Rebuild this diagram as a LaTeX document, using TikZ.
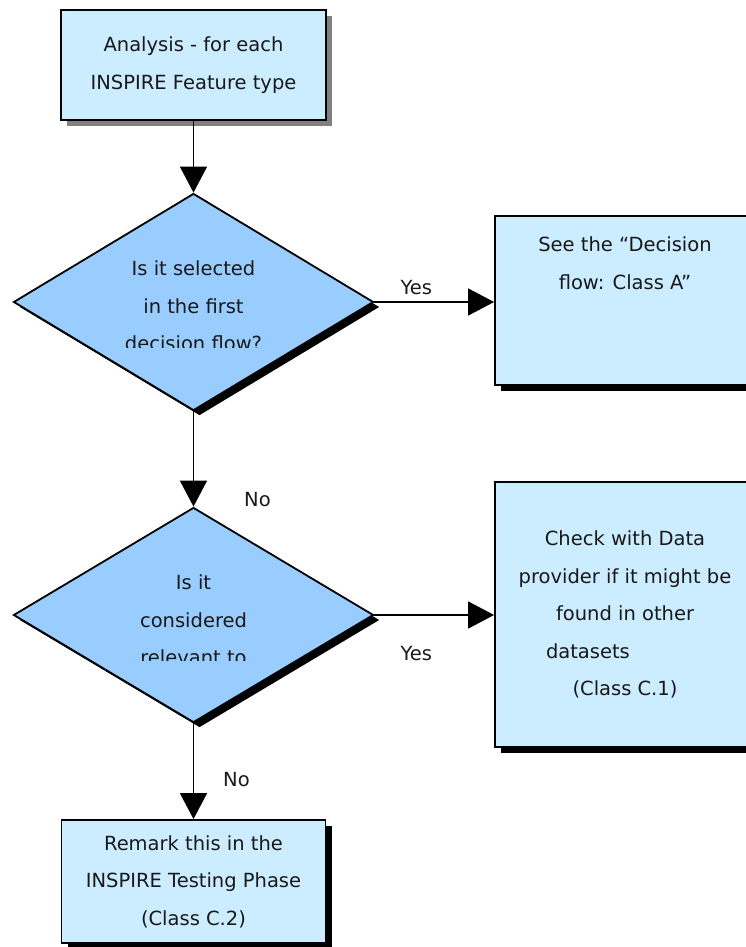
\documentclass[tikz,border=0pt]{standalone}
\usepackage{fontspec}
\setmainfont{DejaVu Sans}
\usetikzlibrary{arrows.meta, shapes.geometric, shadows}

\definecolor{boxblue}{HTML}{CCECFF}
\definecolor{decblue}{HTML}{99CCFF}

\begin{document}
\begin{tikzpicture}[
        x=1pt, y=-1pt,
        every node/.style={font=\fontsize{19.5}{37.5}\selectfont, text=black!90},
        box/.style={draw, line width=1.8pt, fill=boxblue, align=center, inner sep=0pt,
          drop shadow={shadow xshift=6pt, shadow yshift=-6pt, fill=black, opacity=1}},
        decision/.style={diamond, draw, line width=1.8pt, fill=decblue, inner sep=0pt,
          minimum width=360, minimum height=217,
          drop shadow={shadow xshift=6pt, shadow yshift=-5pt, fill=black, opacity=1}},
        lbl/.style={inner sep=0pt},
        arr/.style={line width=1.4pt, -{Triangle[length=26pt, width=27pt]}} % arrow style
      ]
      \useasboundingbox (0,0) rectangle (745,947);

      % Nodes
      \node (ana) [box, minimum width=265, minimum height=110,
        drop shadow={shadow xshift=6pt, shadow yshift=-6pt, fill=black!50, opacity=1}]
        at (193.5,65) {Analysis - for each\\INSPIRE Feature type};
      \node (sel) [decision] at (193.5,302) {};
      \node (see) [box, minimum width=260, minimum height=169] at (625,300.5)
        {See the “Decision\\flow: Class A”\\\mbox{}\\\mbox{}};
      \node (rel) [decision, minimum height=215] at (193.5,615) {};
      \node (check) [box, minimum width=260, minimum height=265] at (625,614.5)
        {Check with Data\\provider if it might be\\found in other\\\makebox[158pt][l]{datasets}\\(Class C.1)};
      \node (remark) [box, minimum width=264, minimum height=123] at (193.5,881.5)
        {Remark this in the\\INSPIRE Testing Phase\\(Class C.2)};

      % Questions (cut off at the bottom)
      \begin{scope}
        \clip (0,190) rectangle (400,347);
        \node (selq) [align=center] at (193.5,306) {Is it selected\\in the first\\decision flow?};
      \end{scope}
      \begin{scope}
        \clip (0,500) rectangle (400,660.5);
        \node (relq) [align=center] at (193.5,620) {Is it\\considered\\relevant to};
      \end{scope}

      % Arrows
      \draw[arr] (ana.south) -- (sel.north);
      \draw[arr] (sel.east) -- node[lbl, pos=0.35, yshift=14pt] {Yes} (sel.east -| see.west);
      \draw[arr] (sel.south) -- node[lbl, pos=0.93, xshift=64pt] {No} (rel.north);
      \draw[arr] (rel.east) -- node[lbl, pos=0.35, yshift=-39pt] {Yes} (rel.east -| check.west);
      \draw[arr] (rel.south) -- node[lbl, pos=0.59, xshift=43pt] {No} (remark.north);

    \end{tikzpicture}
\end{document}
